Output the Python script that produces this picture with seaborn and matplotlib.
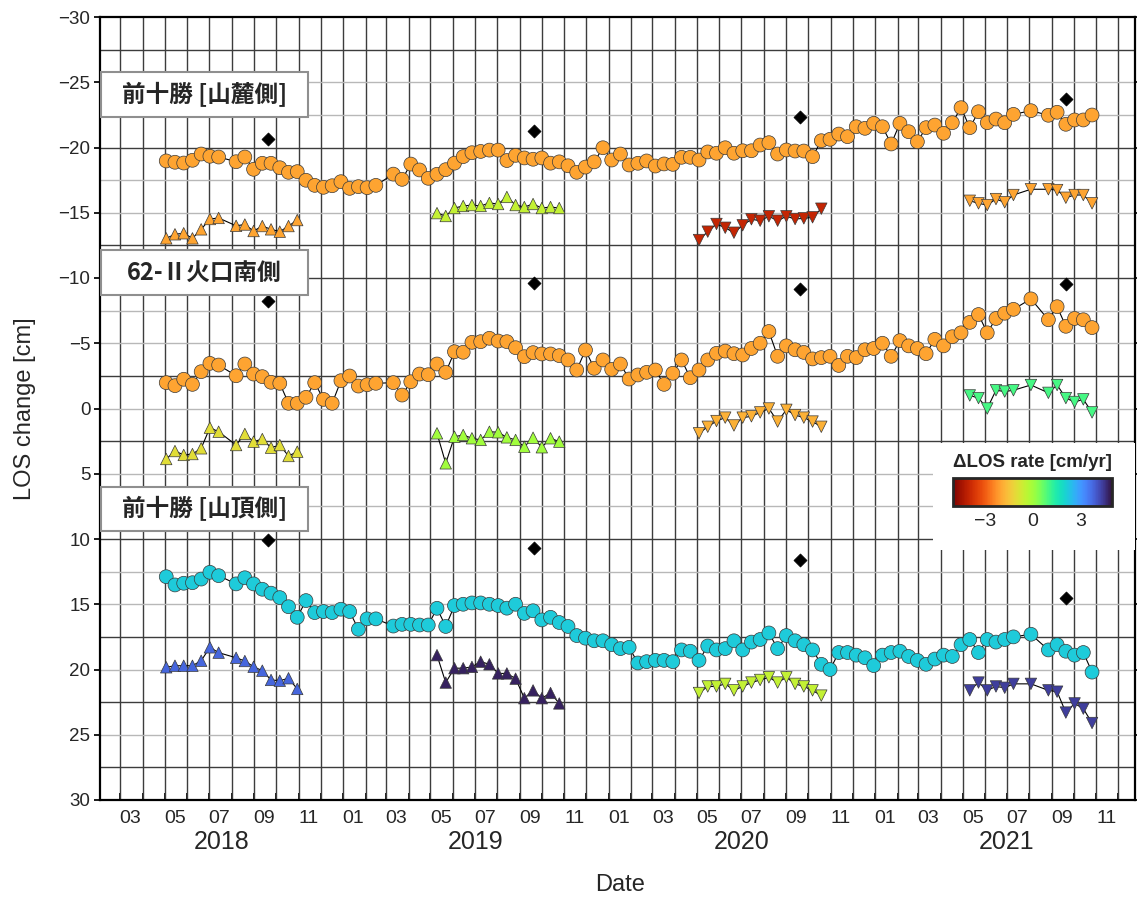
import matplotlib
matplotlib.use("Agg")
import matplotlib.pyplot as plt
import matplotlib.dates as mdates
import matplotlib.transforms as mtransforms
from matplotlib.patches import Rectangle
from matplotlib.colors import Normalize
from matplotlib.cm import ScalarMappable
import pandas as pd
import seaborn as sns

# ---------------------------------------------------------------- data
circle_dates = [
    "2018-05-03", "2018-05-15", "2018-05-27", "2018-06-08", "2018-06-20", "2018-07-02", "2018-07-14",
    "2018-08-07", "2018-08-19", "2018-08-31", "2018-09-12", "2018-09-24", "2018-10-06", "2018-10-18", "2018-10-30",
    "2018-11-11", "2018-11-23", "2018-12-05", "2018-12-17", "2018-12-29",
    "2019-01-10", "2019-01-22", "2019-02-03", "2019-02-15",
    "2019-03-11", "2019-03-23", "2019-04-04", "2019-04-16", "2019-04-28", "2019-05-10", "2019-05-22",
    "2019-06-03", "2019-06-15", "2019-06-27", "2019-07-09", "2019-07-21", "2019-08-02", "2019-08-14",
    "2019-08-26", "2019-09-07", "2019-09-19", "2019-10-01", "2019-10-13", "2019-10-25", "2019-11-06",
    "2019-11-18", "2019-11-30", "2019-12-12", "2019-12-24",
    "2020-01-05", "2020-01-17", "2020-01-29", "2020-02-10", "2020-02-22", "2020-03-05", "2020-03-17",
    "2020-03-29", "2020-04-10", "2020-04-22", "2020-05-04", "2020-05-16", "2020-05-28", "2020-06-09",
    "2020-06-21", "2020-07-03", "2020-07-15", "2020-07-27", "2020-08-08", "2020-08-20", "2020-09-01",
    "2020-09-13", "2020-09-25", "2020-10-07", "2020-10-19", "2020-10-31", "2020-11-12", "2020-11-24",
    "2020-12-06", "2020-12-18", "2020-12-30",
    "2021-01-11", "2021-01-23", "2021-02-04", "2021-02-16", "2021-02-28", "2021-03-12", "2021-03-24",
    "2021-04-05", "2021-04-17", "2021-04-29", "2021-05-11", "2021-05-23", "2021-06-04", "2021-06-16",
    "2021-06-28", "2021-07-10",
    "2021-08-03", "2021-08-27", "2021-09-08", "2021-09-20", "2021-10-02", "2021-10-14", "2021-10-26",
]

foot_circle = [
    -18.97, -18.87, -18.81, -19.02, -19.50, -19.33, -19.27,
    -18.91, -19.27, -18.33, -18.79, -18.79, -18.45, -18.10, -18.15,
    -17.49, -17.10, -16.95, -17.07, -17.38,
    -16.87, -17.00, -16.92, -17.10,
    -17.96, -17.56, -18.73, -18.28, -17.64, -17.95, -18.3,
    -18.8, -19.3, -19.6, -19.7, -19.8, -19.8, -19.0,
    -19.4, -19.2, -19.1, -19.2, -18.8, -18.9, -18.6,
    -18.1, -18.5, -18.9, -19.98,
    -19.04, -19.50, -18.66, -18.79, -18.97, -18.58, -18.74,
    -18.71, -19.25, -19.25, -19.04, -19.66, -19.56, -19.98,
    -19.56, -19.75, -19.75, -20.19, -20.37, -19.50, -19.81,
    -19.73, -19.73, -19.30, -20.52, -20.63, -21.03, -20.83,
    -21.59, -21.47, -21.85,
    -21.59, -20.27, -21.85, -21.21, -20.44, -21.52, -21.72,
    -21.09, -21.90, -23.05, -21.52, -22.74, -21.90, -22.18,
    -21.90, -22.54,
    -22.82, -22.47, -22.70, -21.78, -22.11, -22.11, -22.49,
]

crater_circle = [
    -1.98, -1.75, -2.24, -1.85, -2.82, -3.46, -3.33,
    -2.51, -3.41, -2.64, -2.44, -2.01, -1.93, -0.40, -0.40,
    -0.86, -1.98, -0.70, -0.40, -2.13,
    -2.49, -1.72, -1.82, -1.93,
    -1.98, -1.03, -2.05, -2.64, -2.59, -3.41, -2.77,
    -4.35, -4.31, -5.07, -5.12, -5.38, -5.17, -5.12,
    -4.66, -3.97, -4.28, -4.18, -4.18, -4.05, -3.72,
    -2.95, -4.48, -3.08, -3.72,
    -3.00, -3.41, -2.26, -2.57, -2.77, -2.95, -1.85,
    -2.70, -3.72, -2.36, -2.95, -3.72, -4.23, -4.4,
    -4.2, -4.1, -4.6, -5.0, -5.9, -4.0, -4.8,
    -4.5, -4.3, -3.8, -3.9, -4.0, -3.3, -4.0,
    -3.9, -4.5, -4.6,
    -5.0, -4.0, -5.2, -4.8, -4.6, -4.2, -5.3,
    -4.8, -5.5, -5.8, -6.6, -7.2, -5.8, -6.9,
    -7.3, -7.6,
    -8.4, -6.8, -7.8, -6.3, -6.9, -6.8, -6.2,
]

summit_circle = [
    12.89, 13.52, 13.39, 13.35, 13.07, 12.55, 12.81,
    13.44, 12.97, 13.44, 13.85, 14.15, 14.49, 15.19, 16.00,
    14.72, 15.64, 15.56, 15.64, 15.38,
    15.56, 16.92, 16.12, 16.12,
    16.67, 16.54, 16.54, 16.59, 16.59, 15.31, 16.7,
    15.1, 15.0, 14.9, 14.9, 15.0, 15.1, 15.3,
    15.0, 15.7, 15.5, 16.2, 16.0, 16.4, 16.7,
    17.4, 17.6, 17.8, 17.8,
    18.1, 18.4, 18.3, 19.5, 19.4, 19.3, 19.3,
    19.4, 18.5, 18.6, 19.3, 18.2, 18.5, 18.4,
    17.8, 18.5, 17.9, 17.7, 17.2, 18.4, 17.4,
    17.8, 18.1, 18.5, 19.6, 20.0, 18.7, 18.7,
    18.9, 19.1, 19.7,
    18.9, 18.7, 18.6, 19.0, 19.3, 19.6, 19.2,
    18.9, 19.0, 18.1, 17.7, 18.7, 17.7, 17.9,
    17.7, 17.5,
    17.3, 18.5, 18.1, 18.6, 18.9, 18.7, 20.2,
]

tri_dates_2018 = ["2018-05-03", "2018-05-15", "2018-05-27", "2018-06-08", "2018-06-20", "2018-07-02",
                  "2018-07-14", "2018-08-07", "2018-08-19", "2018-08-31", "2018-09-12", "2018-09-24",
                  "2018-10-06", "2018-10-18", "2018-10-30"]
tri_dates_2019 = ["2019-05-10", "2019-05-22", "2019-06-03", "2019-06-15", "2019-06-27", "2019-07-09",
                  "2019-07-21", "2019-08-02", "2019-08-14", "2019-08-26", "2019-09-07", "2019-09-19",
                  "2019-10-01", "2019-10-13", "2019-10-25"]
tri_dates_2020 = ["2020-05-04", "2020-05-16", "2020-05-28", "2020-06-09", "2020-06-21", "2020-07-03",
                  "2020-07-15", "2020-07-27", "2020-08-08", "2020-08-20", "2020-09-01", "2020-09-13",
                  "2020-09-25", "2020-10-07", "2020-10-19"]
tri_dates_2021 = ["2021-05-11", "2021-05-23", "2021-06-04", "2021-06-16", "2021-06-28", "2021-07-10",
                  "2021-08-03", "2021-08-27", "2021-09-08", "2021-09-20", "2021-10-02", "2021-10-14",
                  "2021-10-26"]

foot_tri_2018 = [-13.04, -13.35, -13.43, -13.04, -13.73, -14.52, -14.60, -14.00, -14.10, -13.60,
                 -13.98, -13.73, -13.55, -13.98, -14.44]
foot_tri_2019 = [-14.97, -14.75, -15.36, -15.52, -15.59, -15.52, -15.75, -15.67, -16.21, -15.59,
                 -15.44, -15.67, -15.36, -15.44, -15.36]
foot_tri_2020 = [-12.91, -13.55, -14.14, -13.85, -13.47, -14.04, -14.50, -14.39, -14.73, -14.39,
                 -14.73, -14.52, -14.57, -14.65, -15.31]
foot_tri_2021 = [-15.92, -15.72, -15.59, -16.05, -15.80, -16.36, -16.80, -16.80, -16.74, -16.15,
                 -16.36, -16.36, -15.72]

crater_tri_2018 = [3.87, 3.26, 3.56, 3.49, 3.05, 1.47, 1.78, 2.80, 1.95, 2.54, 2.34, 3.00, 2.80, 3.64, 3.31]
crater_tri_2019 = [1.90, 4.2, 2.16, 2.03, 2.28, 2.41, 1.78, 1.82, 2.21, 2.41, 2.93, 2.24, 2.97, 2.28, 2.54]
crater_tri_2020 = [1.9, 1.4, 0.96, 0.7, 1.3, 0.7, 0.6, 0.3, 0.0, 1.0, 0.1, 0.5, 0.7, 1.0, 1.4]
crater_tri_2021 = [-1.0, -0.8, 0.0, -1.4, -1.3, -1.4, -1.8, -1.2, -1.8, -0.8, -0.5, -0.7, 0.3]

summit_tri_2018 = [19.83, 19.71, 19.71, 19.71, 19.33, 18.30, 18.71, 19.10, 19.35, 19.79, 20.09, 20.80,
                   20.86, 20.67, 21.49]
summit_tri_2019 = [18.9, 21.0, 19.9, 19.9, 19.8, 19.4, 19.6, 20.3, 20.3, 20.7, 22.2, 21.6, 22.2, 21.8, 22.6]
summit_tri_2020 = [21.8, 21.3, 21.3, 21.1, 21.6, 21.3, 21.0, 20.8, 20.6, 21.0, 20.6, 21.1, 21.3, 21.6, 22.0]
summit_tri_2021 = [21.6, 21.0, 21.6, 21.3, 21.4, 21.1, 21.1, 21.6, 21.7, 23.3, 22.6, 23.0, 24.1]

diamond_dates = ["2018-09-20", "2019-09-20", "2020-09-20", "2021-09-20"]
foot_diamond = [-20.63, -21.26, -22.36, -23.69]
crater_diamond = [-8.24, -9.6, -9.16, -9.54]
summit_diamond = [10.08, 10.69, 11.6, 14.5]

# LOS rate of each series [cm/yr], used for the colour scale
circle_rates = {"foot": -2.0, "crater": -2.0, "summit": 2.2}
tri_rates = {
    "foot": [-2.0, -0.5, -4.0, -2.0],
    "crater": [-1.0, 0.0, -1.8, 1.0],
    "summit": [3.8, 4.8, -0.5, 4.4],
}

site_labels = ["前十勝 [山麓側]", "62-Ⅱ火口南側", "前十勝 [山頂側]"]
year_labels = ["2018", "2019", "2020", "2021"]
year_label_dates = ["2018-07-18", "2019-07-02", "2020-07-02", "2021-07-01"]

# ---------------------------------------------------------------- figure
sns.set_theme(style="white")
plt.rcParams["font.family"] = ["Liberation Sans", "DejaVu Sans"]
CJK = ["Noto Sans CJK JP", "DejaVu Sans"]

W, H = 1137, 898
fig = plt.figure(figsize=(W / 100, H / 100), dpi=100)
L, R, T, B = 100, 1135, 17, 800
ax = fig.add_axes([L / W, 1 - B / H, (R - L) / W, (B - T) / H])

norm = Normalize(-5, 5)
CMAP = "turbo_r"


def draw_series(dates, vals, rate, marker, size):
    df = pd.DataFrame({"date": pd.to_datetime(dates), "los": vals, "rate": rate})
    sns.lineplot(data=df, x="date", y="los", ax=ax, color="black", lw=0.8,
                 estimator=None, sort=False, zorder=3)
    sns.scatterplot(data=df, x="date", y="los", hue="rate", palette=CMAP, hue_norm=norm,
                    marker=marker, s=size, edgecolor="#3a3a3a", linewidth=0.5,
                    legend=False, ax=ax, zorder=4)


tri_dates = [tri_dates_2018, tri_dates_2019, tri_dates_2020, tri_dates_2021]
tri_markers = ["^", "^", "v", "v"]
site_data = {
    "foot": (foot_circle, [foot_tri_2018, foot_tri_2019, foot_tri_2020, foot_tri_2021], foot_diamond),
    "crater": (crater_circle, [crater_tri_2018, crater_tri_2019, crater_tri_2020, crater_tri_2021], crater_diamond),
    "summit": (summit_circle, [summit_tri_2018, summit_tri_2019, summit_tri_2020, summit_tri_2021], summit_diamond),
}

for key, (circ, tris, diam) in site_data.items():
    for d, v, rate, m in zip(tri_dates, tris, tri_rates[key], tri_markers):
        draw_series(d, v, rate, m, 68)
    draw_series(circle_dates, circ, circle_rates[key], "o", 100)
    dd = pd.DataFrame({"date": pd.to_datetime(diamond_dates), "los": diam})
    sns.scatterplot(data=dd, x="date", y="los", color="black", marker="D", s=44,
                    edgecolor="black", legend=False, ax=ax, zorder=4)

# axes limits, grid
ax.set_xlim(pd.Timestamp("2018-02-01"), pd.Timestamp("2021-12-24"))
ax.set_ylim(30, -30)

for m in pd.date_range("2018-03-01", "2021-12-01", freq="MS"):
    ax.axvline(m, color="#3c3c3c", lw=1.0, zorder=1)
grid_dark = {-27.5, -20, -12.5, -10, -2.5, 2.5, 10, 17.5, 22.5, 27.5}
for k in range(-11, 12):
    yv = k * 2.5
    ax.axhline(yv, color="#3c3c3c" if yv in grid_dark else "#b8b8b8", lw=1.0, zorder=1)

for s in ax.spines.values():
    s.set_color("black")
    s.set_linewidth(1.6)

ax.set_yticks(range(-30, 31, 5))
ax.tick_params(axis="y", labelsize=13.5, length=4, direction="out", left=True, right=True,
               color="black", pad=3)

ax.xaxis.set_major_locator(mdates.MonthLocator())
ax.xaxis.set_major_formatter(plt.NullFormatter())
ax.xaxis.set_minor_locator(mdates.MonthLocator(bymonth=[1, 3, 5, 7, 9, 11], bymonthday=15))
ax.xaxis.set_minor_formatter(mdates.DateFormatter("%m"))
ax.tick_params(axis="x", which="major", length=5, direction="in", bottom=True, color="black")
ax.tick_params(axis="x", which="minor", length=0, labelsize=14, pad=7)

blend = mtransforms.blended_transform_factory(ax.transData, ax.transAxes)
for lab, d in zip(year_labels, year_label_dates):
    ax.text(pd.Timestamp(d), -0.054, lab, transform=blend, ha="center", va="center",
            fontsize=18)

ax.set_xlabel("Date", fontsize=17, va="center")
ax.set_ylabel("LOS change [cm]", fontsize=17, va="center")
ax.xaxis.set_label_coords((620 - L) / (R - L), -(885 - B) / (B - T))
ax.yaxis.set_label_coords(-(L - 25) / (R - L), 0.5)

# site label boxes (pixel boxes converted to axes fractions)
box_px = [(72, 117), (250, 295), (487, 531)]
for lab, (y0, y1) in zip(site_labels, box_px):
    fy = (B - y1) / (B - T)
    fh = (y1 - y0) / (B - T)
    ax.add_patch(Rectangle((0.001, fy), 207 / (R - L), fh, transform=ax.transAxes,
                           facecolor="white", edgecolor="#8f8f8f", lw=1.5, zorder=6))
    ax.text(0.001 + 207 / (R - L) / 2, fy + fh / 2, lab, transform=ax.transAxes,
            ha="center", va="center", fontsize=17, fontweight="bold", family=CJK, zorder=7)

# colour scale legend
ax.add_patch(Rectangle((933 / W, 1 - 550 / H), 202 / W, 107 / H, transform=fig.transFigure,
                       facecolor="white", edgecolor="none", zorder=8, clip_on=False))
fig.text(1032 / W, 1 - 463 / H, "ΔLOS rate [cm/yr]", ha="center", va="center",
         fontsize=13.5, fontweight="bold")
cax = fig.add_axes([953 / W, 1 - 506 / H, 159 / W, 28 / H])
cb = fig.colorbar(ScalarMappable(norm=norm, cmap=CMAP), cax=cax, orientation="horizontal")
cb.set_ticks([-3, 0, 3])
cb.ax.set_xticks(range(-4, 5), minor=True)
cb.ax.tick_params(which="major", direction="in", length=6, width=1.2, labelsize=14, pad=5)
cb.ax.tick_params(which="minor", direction="in", length=3, width=1.0)
cb.outline.set_linewidth(2)
cb.ax.set_xticklabels(["−3", "0", "3"])

fig.savefig("out.png", dpi=100)
